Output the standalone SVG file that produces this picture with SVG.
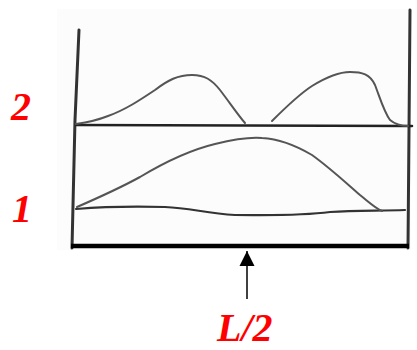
<svg xmlns="http://www.w3.org/2000/svg" width="417" height="350" viewBox="0 0 417 350">
<style>
.wall{fill:none;stroke:#333;stroke-width:3;stroke-linecap:round}
.curve{fill:none;stroke:#555;stroke-width:2;stroke-linejoin:round;stroke-linecap:round}
.base{fill:none;stroke:#222;stroke-width:2.6;stroke-linecap:round}
.lbl{font-family:"Liberation Serif",serif;font-style:italic;font-weight:bold;font-size:40px;fill:#ff0000}
</style>
<defs>
<marker id="ah" markerWidth="16" markerHeight="16" refX="15" refY="8" orient="auto" markerUnits="userSpaceOnUse" viewBox="0 0 16 16">
<path d="M0,0.5 L15,8 L0,15.5 z" fill="#000"/>
</marker>
</defs>
<rect x="57" y="9" width="354" height="241" fill="#fcfcfc"/>
<g id="vessel">
<path class="wall" d="M79,30 L75,120 L72,248"/>
<path class="wall" d="M410,10 L409,130 L408,248"/>
<path d="M71,246 L409,246" fill="none" stroke="#000" stroke-width="4.5"/>
</g>
<g id="level2">
<path class="base" d="M76,125 L412,126"/>
<path class="curve" d="M76,124 C90,122 98,120 108,116 C125,110 140,100 155,90 C168,80 178,75 192,75 C205,75 212,80 220,90 C230,103 238,115 245,123"/>
<path class="curve" d="M272,121 C285,108 298,95 312,86 C325,78 338,72 350,72 C362,72 370,74 375,85 C380,98 384,112 390,120 C396,125 402,126 408,126"/>
</g>
<g id="level1">
<path class="base" style="stroke:#333;stroke-width:2.2" d="M76,209 C100,207 130,206 165,207 C190,208 205,213 235,215 C270,215 300,216 330,212 C355,210 380,211 405,210"/>
<path class="curve" d="M77,207 C100,197 120,188 140,177 C165,162 190,150 215,144 C235,139 250,137 262,138 C280,139 295,145 312,155 C330,168 345,182 360,195 C370,203 375,208 382,211"/>
</g>
<g id="connectors">
<line x1="247" y1="299" x2="247" y2="251" stroke="#000" stroke-width="1.5" marker-end="url(#ah)"/>
</g>
<g id="labels">
<text class="lbl" x="11" y="120">2</text>
<text class="lbl" x="12" y="222">1</text>
<text class="lbl" x="217" y="341">L/2</text>
</g>
</svg>
